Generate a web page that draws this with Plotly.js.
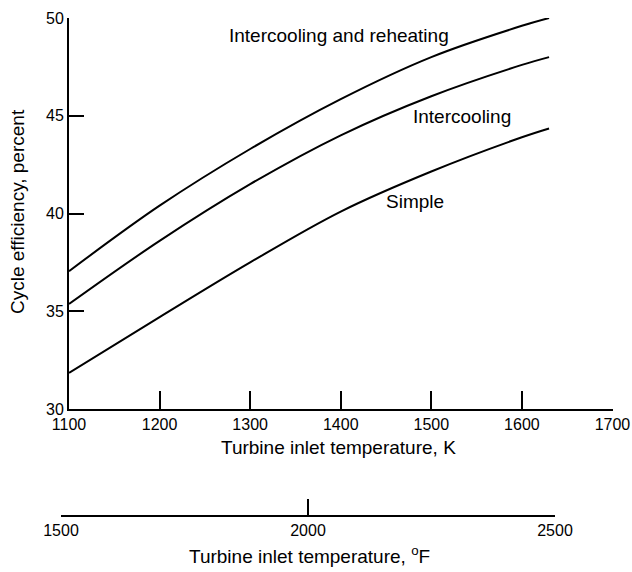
<!DOCTYPE html>
<html>
<head>
<meta charset="utf-8">
<script src="https://cdn.plot.ly/plotly-3.0.1.min.js"></script>
<style>html,body{margin:0;padding:0;background:#fff;}#chart{width:632px;height:572px;}</style>
</head>
<body>
<div id="chart"></div>
<script>
// Turbine inlet temperature, K
const tempK = [1100, 1200, 1300, 1400, 1500, 1600, 1630];
// Cycle efficiency, percent
const reheat = [37.05, 40.4, 43.3, 45.85, 48.0, 49.6, 50.0];
const intercool = [35.37, 38.6, 41.5, 44.0, 46.0, 47.6, 48.0];
const simple = [31.85, 34.7, 37.5, 40.1, 42.15, 43.9, 44.35];
const seriesNames = ['Intercooling and reheating', 'Intercooling', 'Simple'];
const kTicks = [1100, 1200, 1300, 1400, 1500, 1600, 1700];
const fTicks = [1500, 2000, 2500];
const yTicks = [30, 35, 40, 45, 50];
const kTitle = 'Turbine inlet temperature, K';
const fTitle = 'Turbine inlet temperature, <sup>o</sup>F';
const yTitle = 'Cycle efficiency, percent';

const TFONT = 'Liberation Sans Narrow, Liberation Sans, sans-serif';
const NFONT = 'Liberation Sans, sans-serif';
const lineStyle = {color: '#000', width: 2, shape: 'spline', smoothing: 1};

const traces = [
  {x: tempK, y: reheat, name: seriesNames[0], mode: 'lines', line: lineStyle, xaxis: 'x', yaxis: 'y'},
  {x: tempK, y: intercool, name: seriesNames[1], mode: 'lines', line: lineStyle, xaxis: 'x', yaxis: 'y'},
  {x: tempK, y: simple, name: seriesNames[2], mode: 'lines', line: lineStyle, xaxis: 'x', yaxis: 'y'},
  {x: [fTicks[0], fTicks[fTicks.length - 1]], y: [null, null], mode: 'lines', showlegend: false, hoverinfo: 'skip', xaxis: 'x2', yaxis: 'y'}
];

const W = 632, H = 572, mL = 50, mR = 10, mT = 18, mB = 56, plotW = W - mL - mR, plotH = H - mT - mB;
const px = v => (v - mL) / plotW;        // paper x from pixel
const py = v => (H - mB - v) / plotH;    // paper y from pixel
const annFont = {family: TFONT, size: 19, color: '#000'};

const layout = {
  width: W, height: H,
  margin: {l: mL, r: mR, t: mT, b: mB},
  paper_bgcolor: '#fff', plot_bgcolor: 'rgba(0,0,0,0)',
  showlegend: false,
  font: {family: NFONT, size: 16, color: '#000'},
  xaxis: {
    domain: [px(69), px(613)],
    range: [1100, 1700.6], anchor: 'y',
    tickvals: kTicks, ticktext: kTicks.map(String),
    ticks: 'inside', ticklen: 18, tickwidth: 2, tickcolor: '#000',
    showline: true, linecolor: '#000', linewidth: 2,
    showgrid: false, zeroline: false, ticklabeloverflow: 'allow',
    tickfont: {family: NFONT, size: 16}
  },
  xaxis2: {
    domain: [px(61), px(555)],
    range: [1500, 2500], anchor: 'free', position: 0,
    tickvals: fTicks, ticktext: fTicks.map(String),
    ticks: 'inside', ticklen: 16, tickwidth: 2, tickcolor: '#000',
    showline: true, linecolor: '#000', linewidth: 2,
    showgrid: false, zeroline: false, ticklabeloverflow: 'allow',
    tickfont: {family: NFONT, size: 16}
  },
  yaxis: {
    domain: [py(409), 1],
    range: [30, 50], anchor: 'x',
    tickvals: yTicks, ticktext: yTicks.map(String),
    ticks: 'inside', ticklen: 15, tickwidth: 2, tickcolor: '#000',
    showline: true, linecolor: '#000', linewidth: 2,
    showgrid: false, zeroline: false,
    tickfont: {family: NFONT, size: 16}
  },
  annotations: [
    {text: seriesNames[0], x: 1398, y: 49.13, xref: 'x', yref: 'y', showarrow: false, xanchor: 'center', yanchor: 'middle', font: annFont},
    {text: seriesNames[1], x: 1534, y: 44.94, xref: 'x', yref: 'y', showarrow: false, xanchor: 'center', yanchor: 'middle', font: annFont},
    {text: seriesNames[2], x: 1482, y: 40.59, xref: 'x', yref: 'y', showarrow: false, xanchor: 'center', yanchor: 'middle', font: annFont},
    {text: kTitle, x: px(338), y: py(447), xref: 'paper', yref: 'paper', showarrow: false, xanchor: 'center', yanchor: 'middle', font: annFont},
    {text: fTitle, x: px(309), y: py(555), xref: 'paper', yref: 'paper', showarrow: false, xanchor: 'center', yanchor: 'middle', font: annFont},
    {text: yTitle, x: -0.0 - (mL - 18) / plotW, y: py(212), xref: 'paper', yref: 'paper', showarrow: false, textangle: -90, xanchor: 'center', yanchor: 'middle', font: annFont}
  ]
};

Plotly.newPlot('chart', traces, layout, {staticPlot: true, displayModeBar: false});
</script>
</body>
</html>
